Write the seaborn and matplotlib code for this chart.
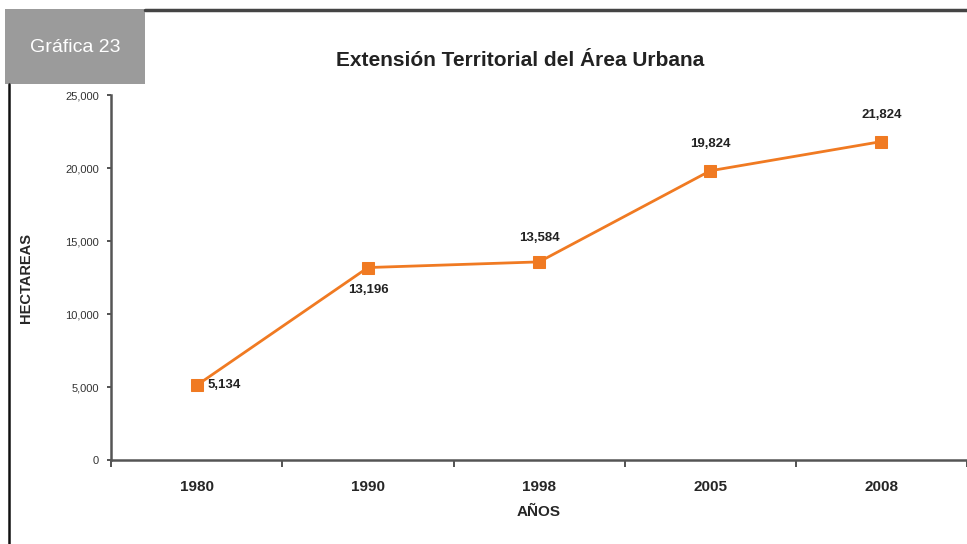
import matplotlib
matplotlib.use("Agg")
import matplotlib.pyplot as plt
import seaborn as sns
import pandas as pd
from matplotlib.lines import Line2D
from matplotlib.patches import Rectangle

years = ["1980", "1990", "1998", "2005", "2008"]
hectareas = [5134, 13196, 13584, 19824, 21824]
labels = ["5,134", "13,196", "13,584", "19,824", "21,824"]

df = pd.DataFrame({"year": years, "ha": hectareas})

sns.set_style("white")
plt.rcParams['font.family'] = ['Liberation Sans', 'DejaVu Sans']

fig = plt.figure(figsize=(9.67, 5.44), dpi=100)
ax = fig.add_axes([0.115, 0.154, 0.885, 0.671])

orange = "#F07A22"
sns.lineplot(data=df, x="year", y="ha", ax=ax, color=orange, linewidth=2,
             marker="s", markersize=8, markeredgecolor=orange, sort=False)

ax.set_xlim(-0.5, 4.5)
ax.set_ylim(0, 25000)
ax.set_yticks([0, 5000, 10000, 15000, 20000, 25000])
ax.set_yticklabels(["0", "5,000", "10,000", "15,000", "20,000", "25,000"],
                   fontsize=8, color="#333333")
ax.set_xticks(range(len(years)))
ax.set_xticklabels(years, fontsize=11, fontweight="bold")
ax.set_xticks([i - 0.5 for i in range(len(years) + 1)], minor=True)
ax.tick_params(axis="x", which="major", length=0, pad=14)
ax.tick_params(axis="x", which="minor", bottom=True, length=5, width=1.3,
               color="#444444", direction="out")
ax.tick_params(axis="y", left=True, length=3, width=1.3, color="#444444",
               direction="out", pad=6)

for side in ["top", "right"]:
    ax.spines[side].set_visible(False)
for side in ["left", "bottom"]:
    ax.spines[side].set_color("#555555")
    ax.spines[side].set_linewidth(1.8)

ax.set_xlabel("AÑOS", fontsize=11, fontweight="bold", labelpad=8)
ax.set_ylabel("HECTAREAS", fontsize=10.5, fontweight="bold")
ax.yaxis.set_label_coords(-0.091, 0.5)

# value labels
offsets = [(8, 0, "left", "center"), (0, -16, "center", "center"),
           (0, 17, "center", "center"), (0, 19, "center", "center"),
           (0, 19, "center", "center")]
for i, (v, t) in enumerate(zip(hectareas, labels)):
    dx, dy, ha, va = offsets[i]
    ax.annotate(t, (i, v), xytext=(dx, dy), textcoords="offset points",
                ha=ha, va=va, fontsize=9.5, fontweight="bold", color="#222222")

fig.suptitle("Extensión Territorial del Área Urbana", x=0.538, y=0.888,
             va="center", fontsize=15, fontweight="bold", color="#222222")

# frame and badge
fig.add_artist(Rectangle((0.005, 0.845), 0.145, 0.138, transform=fig.transFigure,
                         facecolor="#9b9b9b", edgecolor="none"))
fig.text(0.078, 0.912, "Gráfica 23", ha="center", va="center", fontsize=14,
         color="white")
fig.add_artist(Line2D([0.15, 1.0], [0.981, 0.981], transform=fig.transFigure,
                      color="#444444", linewidth=2.5))
fig.add_artist(Line2D([0.009, 0.009], [0.0, 0.845], transform=fig.transFigure,
                      color="#111111", linewidth=1.8))

fig.savefig("out.png", dpi=100)
